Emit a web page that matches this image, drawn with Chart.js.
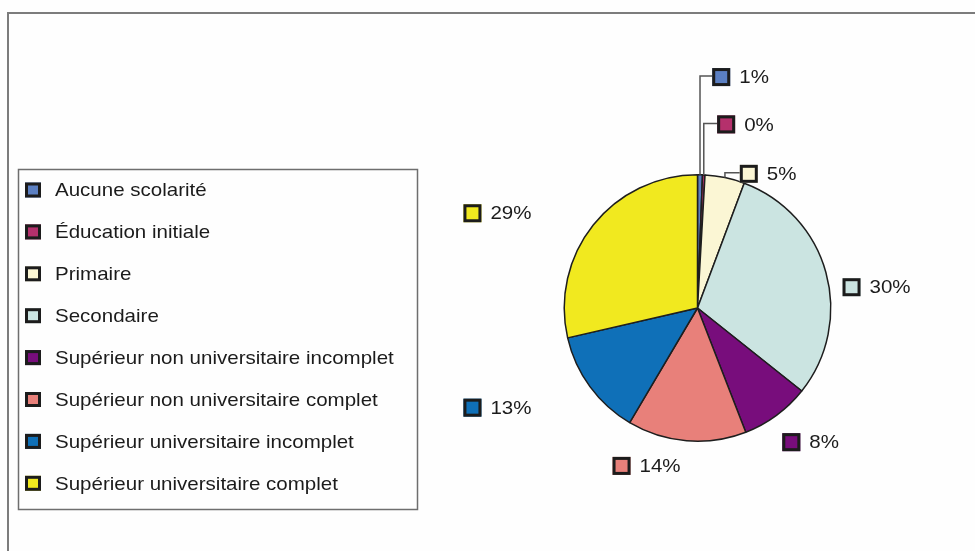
<!DOCTYPE html>
<html>
<head>
<meta charset="utf-8">
<script src="https://cdn.jsdelivr.net/npm/chart.js@4.4.0/dist/chart.umd.min.js"></script>
<style>
  html, body { margin: 0; padding: 0; background: #fff; }
  #wrap { width: 975px; height: 551px; }
</style>
</head>
<body>
<div id="wrap"><canvas id="pieChart" width="975" height="551"></canvas></div>
<script>
// Niveaux de scolarité
const categories = [
    'Aucune scolarité',
    'Éducation initiale',
    'Primaire',
    'Secondaire',
    'Supérieur non universitaire incomplet',
    'Supérieur non universitaire complet',
    'Supérieur universitaire incomplet',
    'Supérieur universitaire complet'
];
// Pourcentages
const values = [0.6, 0.3, 4.8, 30.0, 8.4, 14.4, 12.9, 28.6];
const colors = ['#5b7fc2', '#b5306c', '#fbf6d4', '#cbe4e1', '#780d7c', '#e8807a', '#0f70b8', '#f1e91f'];

// où poser chaque étiquette (en rayons, par rapport au centre) et si elle a un trait de rappel
const labelOffsets = [[0.178, -1.733], [0.215, -1.378], [0.385, -1.007], [1.156, -0.156],
                      [0.704, 1.007], [-0.570, 1.185], [-1.689, 0.748], [-1.689, -0.711]];
const withLeader = [true, true, true, false, false, false, false, false];

const FONT = '19px "Liberation Sans", Arial, sans-serif';
const TEXT = '#1b1b1b';
const STRETCH = 1.08; // le texte de l'original est un peu élargi

function drawMarker(ctx, cx, cy, color, w, h) {
    ctx.fillStyle = color;
    ctx.fillRect(cx - w / 2, cy - h / 2, w, h);
    ctx.lineWidth = 3;
    ctx.strokeStyle = '#1c1c1c';
    ctx.strokeRect(cx - w / 2 + 1.5, cy - h / 2 + 1.5, w - 3, h - 3);
}

function drawText(ctx, str, x, y) {
    ctx.save();
    ctx.translate(x, y);
    ctx.scale(STRETCH, 1);
    ctx.fillStyle = TEXT;
    ctx.fillText(str, 0, 0);
    ctx.restore();
}

const decorPlugin = {
    id: 'decor',
    beforeDraw(chart) {
        const ctx = chart.ctx;
        ctx.save();
        ctx.fillStyle = '#fefefe';
        ctx.fillRect(0, 0, chart.width, chart.height);
        // cadre extérieur
        ctx.strokeStyle = '#7c7c7c';
        ctx.lineWidth = 2;
        ctx.beginPath();
        ctx.moveTo(8, chart.height);
        ctx.lineTo(8, 13);
        ctx.lineTo(chart.width, 13);
        ctx.stroke();
        ctx.restore();
    },
    afterDraw(chart) {
        const ctx = chart.ctx;
        const meta = chart.getDatasetMeta(0);
        const total = values.reduce((a, b) => a + b, 0);
        ctx.save();

        // légende encadrée
        ctx.strokeStyle = '#6e6e6e';
        ctx.lineWidth = 1.5;
        ctx.strokeRect(18.5, 169.5, 399, 340);
        ctx.font = FONT;
        ctx.textBaseline = 'middle';
        ctx.textAlign = 'left';
        categories.forEach((name, i) => {
            const y = 190 + i * 41.9;
            drawMarker(ctx, 33, y, colors[i], 16, 15);
            drawText(ctx, name, 55, y + 1);
        });

        // étiquettes de pourcentage
        meta.data.forEach((arc, i) => {
            const r = arc.outerRadius;
            const lx = arc.x + labelOffsets[i][0] * r;
            const ly = arc.y + labelOffsets[i][1] * r;
            if (withLeader[i]) {
                const mid = (arc.startAngle + arc.endAngle) / 2;
                const ax = arc.x + Math.cos(mid) * r;
                const ay = arc.y + Math.sin(mid) * r;
                ctx.strokeStyle = '#555';
                ctx.lineWidth = 1.5;
                ctx.beginPath();
                ctx.moveTo(ax, ay);
                ctx.lineTo(ax, ly - 1);
                ctx.lineTo(lx - 9, ly - 1);
                ctx.stroke();
            }
            drawMarker(ctx, lx, ly, colors[i], 18, 18);
            drawText(ctx, (values[i] / total * 100).toFixed(0) + '%', lx + 18, ly + 1);
        });
        ctx.restore();
    }
};

const pieCtx = document.getElementById('pieChart').getContext('2d');
const pieChart = new Chart(pieCtx, {
    type: 'pie',
    data: {
        labels: categories,
        datasets: [{
            data: values,
            backgroundColor: colors,
            borderColor: '#1e1e1e',
            borderWidth: 1.5
        }]
    },
    options: {
        responsive: false,
        animation: false,
        layout: { padding: { left: 562, right: 142, top: 174, bottom: 109 } },
        plugins: {
            legend: { display: false },
            tooltip: { enabled: false }
        }
    },
    plugins: [decorPlugin]
});
</script>
</body>
</html>
